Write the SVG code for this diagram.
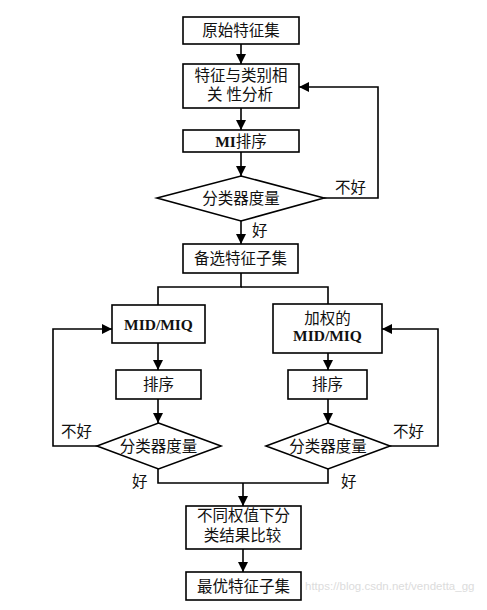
<svg xmlns="http://www.w3.org/2000/svg" width="487" height="610" viewBox="0 0 487 610">
<defs>
<marker id="ah" viewBox="0 0 10 10" refX="10" refY="5" markerWidth="10" markerHeight="10" markerUnits="userSpaceOnUse" orient="auto">
<path d="M0,0 L10,5 L0,10 Z" fill="#000"/>
</marker>
</defs>
<style>
.box{fill:#fff;stroke:#000;stroke-width:1.6}
.ln{fill:none;stroke:#000;stroke-width:1.6}
.t{font-family:"Liberation Serif","Noto Sans CJK SC",serif;font-size:15.5px;fill:#111;text-anchor:middle}
.b{font-family:"Liberation Serif","Noto Sans CJK SC",serif;font-size:15.5px;font-weight:bold;fill:#111;text-anchor:middle}
.l{font-family:"Liberation Serif","Noto Sans CJK SC",serif;font-size:15.5px;fill:#111}
.wm{font-family:"Liberation Sans",sans-serif;font-size:11.5px;fill:#dcdcdc}
</style>
<rect width="487" height="610" fill="#fff"/>
<g id="connectors">
<line class="ln" x1="241" y1="44" x2="241" y2="64" marker-end="url(#ah)"/>
<line class="ln" x1="241" y1="108" x2="241" y2="130" marker-end="url(#ah)"/>
<line class="ln" x1="241" y1="152" x2="241" y2="176" marker-end="url(#ah)"/>
<line class="ln" x1="241" y1="221" x2="241" y2="244" marker-end="url(#ah)"/>
<polyline class="ln" points="324,198 378,198 378,87 299,87" marker-end="url(#ah)"/>
<polyline class="ln" points="241,273 241,287 158,287 158,305"/>
<polyline class="ln" points="241,287 328,287 328,304"/>
<line class="ln" x1="158" y1="343" x2="158" y2="370" marker-end="url(#ah)"/>
<line class="ln" x1="328" y1="353" x2="328" y2="370" marker-end="url(#ah)"/>
<line class="ln" x1="158" y1="399" x2="158" y2="423" marker-end="url(#ah)"/>
<line class="ln" x1="328" y1="399" x2="328" y2="423" marker-end="url(#ah)"/>
<polyline class="ln" points="97,446 53,446 53,329 112,329" marker-end="url(#ah)"/>
<polyline class="ln" points="390,446 438,446 438,329 382,329" marker-end="url(#ah)"/>
<polyline class="ln" points="158,469 158,483 328,483 328,469"/>
<line class="ln" x1="243" y1="483" x2="243" y2="506" marker-end="url(#ah)"/>
<line class="ln" x1="243" y1="549" x2="243" y2="572" marker-end="url(#ah)"/>
<text class="l" x="335" y="193">不好</text>
<text class="l" x="252" y="236">好</text>
<text class="l" x="61" y="437">不好</text>
<text class="l" x="393" y="437">不好</text>
<text class="l" x="132" y="487">好</text>
<text class="l" x="341" y="487">好</text>
</g>
<g id="n1"><rect class="box" x="183" y="17" width="116" height="27"/><text class="t" x="241" y="36">原始特征集</text></g>
<g id="n2"><rect class="box" x="183" y="64" width="116" height="44"/><text class="t" x="241" y="81">特征与类别相</text><text class="t" x="240" y="100">关 性分析</text></g>
<g id="n3"><rect class="box" x="183" y="130" width="116" height="22"/><text class="t" x="241" y="146.5"><tspan font-weight="bold">MI</tspan>排序</text></g>
<g id="n4"><polygon class="box" points="241,176 324,198 241,221 157,198"/><text class="t" x="241" y="204">分类器度量</text></g>
<g id="n5"><rect class="box" x="183" y="244" width="115" height="29"/><text class="t" x="240.5" y="264">备选特征子集</text></g>
<g id="n6"><rect class="box" x="112" y="305" width="93" height="38"/><text class="b" x="158.5" y="329.5">MID/MIQ</text></g>
<g id="n7"><rect class="box" x="273" y="304" width="109" height="49"/><text class="t" x="327.5" y="323.5">加权的</text><text class="b" x="327.5" y="340.5">MID/MIQ</text></g>
<g id="n8"><rect class="box" x="116" y="370" width="85" height="29"/><text class="t" x="158.5" y="390">排序</text></g>
<g id="n9"><rect class="box" x="288" y="370" width="79" height="29"/><text class="t" x="327.5" y="390">排序</text></g>
<g id="n10"><polygon class="box" points="158.5,423 221,446 158.5,469 97,446"/><text class="t" x="158.5" y="451.5">分类器度量</text></g>
<g id="n11"><polygon class="box" points="328,423 390,446 328,469 266,446"/><text class="t" x="328" y="451.5">分类器度量</text></g>
<g id="n12"><rect class="box" x="186" y="506" width="115" height="43"/><text class="t" x="243.5" y="520.5">不同权值下分</text><text class="t" x="242.5" y="540.5">类结果比较</text></g>
<g id="n13"><rect class="box" x="186" y="572" width="115" height="28"/><text class="t" x="243.5" y="591.5">最优特征子集</text></g>
<text class="wm" x="305" y="590">https://blog.csdn.net/vendetta_gg</text>
</svg>
